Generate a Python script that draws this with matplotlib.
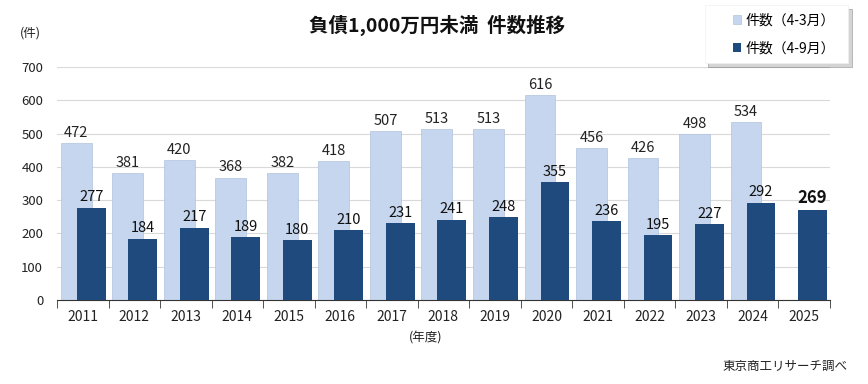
import matplotlib
matplotlib.use("Agg")
import matplotlib.pyplot as plt
import matplotlib.patches as mpatches
import numpy as np

plt.rcParams["font.family"] = ["Noto Sans CJK JP", "DejaVu Sans"]

years = ["2011", "2012", "2013", "2014", "2015", "2016", "2017", "2018",
         "2019", "2020", "2021", "2022", "2023", "2024", "2025"]
full_year = [472, 381, 420, 368, 382, 418, 507, 513, 513, 616, 456, 426, 498, 534, None]
half_year = [277, 184, 217, 189, 180, 210, 231, 241, 248, 355, 236, 195, 227, 292, 269]

LIGHT = "#c6d6ee"
DARK = "#1f4a7e"

fig = plt.figure(figsize=(8.68, 3.84), dpi=100)
ax = fig.add_axes([0.0657, 0.2187, 0.8903, 0.6068])

x = np.arange(len(years))
fx = [i for i, v in zip(x, full_year) if v is not None]
fv = [v for v in full_year if v is not None]

b1 = ax.bar(np.array(fx) - 0.126, fv, width=0.60, color=LIGHT,
            edgecolor="#b0c2dd", linewidth=0.5, zorder=2, label="件数（4-3月）")
b2 = ax.bar(x + 0.165, half_year, width=0.56, color=DARK, zorder=3,
            label="件数（4-9月）")

for xi, v in zip(fx, fv):
    ax.text(xi - 0.126, v + 10, str(v), ha="center", va="bottom", fontsize=10.5,
            color="#222222", zorder=4)
for i, v in enumerate(half_year):
    last = i == len(half_year) - 1
    ax.text(i + 0.165, v + 10, str(v), ha="center", va="bottom",
            fontsize=12 if last else 10.5, fontweight="bold" if last else "normal",
            color="#111111", zorder=4)

ax.set_xlim(-0.5, len(years) - 0.5)
ax.set_ylim(0, 700)
ax.set_yticks(range(0, 701, 100))
ax.yaxis.grid(True, color="#d9d9d9", linewidth=0.8, zorder=0)
ax.set_axisbelow(True)
for side in ["top", "right", "left"]:
    ax.spines[side].set_visible(False)
ax.spines["bottom"].set_color("#333333")
ax.tick_params(axis="y", length=0, labelsize=9.5, colors="#222222", pad=10)

ax.set_xticks(x)
ax.set_xticklabels(years, fontsize=10, color="#222222")
ax.tick_params(axis="x", length=0, pad=7)
ax.set_xticks(np.arange(-0.5, len(years), 1.0), minor=True)
ax.tick_params(axis="x", which="minor", bottom=True, direction="out",
               length=6, color="#333333")

fig.text(0.503, 0.935, "負債1,000万円未満  件数推移", ha="center", va="center",
         fontsize=14, fontweight="bold", color="#111111")
fig.text(0.035, 0.913, "(件)", ha="center", va="center", fontsize=9, color="#222222")
fig.text(0.49, 0.12, "(年度)", ha="center", va="center", fontsize=9, color="#222222")
fig.text(0.976, 0.045, "東京商工リサーチ調べ", ha="right", va="center",
         fontsize=9, color="#222222")

# legend box with soft drop shadow
box = mpatches.Rectangle((0.812, 0.836), 0.165, 0.151, transform=fig.transFigure,
                         facecolor="white", edgecolor="#f0f0f0", linewidth=0.5,
                         zorder=5)
shadow = mpatches.Shadow(box, 0.003, -0.008, facecolor="#a0a0a0", alpha=0.45,
                         zorder=4)
fig.add_artist(shadow)
fig.add_artist(box)

leg = fig.legend(handles=[b1, b2], loc="center", bbox_to_anchor=(0.903, 0.911),
                 fontsize=10, frameon=False, handlelength=0.6, handleheight=0.6,
                 labelspacing=1.0, borderpad=0.0, handletextpad=0.3)
leg.set_zorder(6)

fig.savefig("out.png", dpi=100)
